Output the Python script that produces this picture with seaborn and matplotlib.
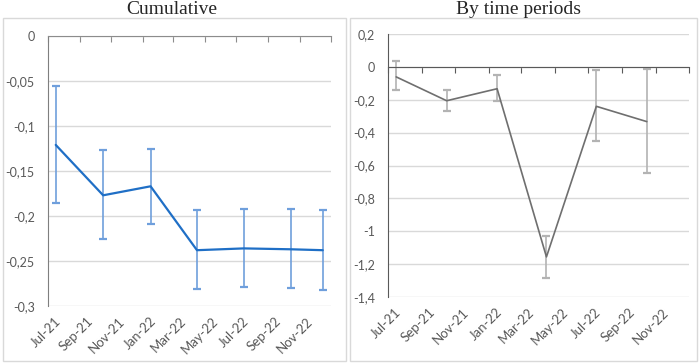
import pandas as pd
import matplotlib
matplotlib.use("Agg")
import matplotlib.pyplot as plt
import matplotlib.transforms as mtransforms
from matplotlib.patches import Rectangle
from matplotlib.ticker import FuncFormatter
import seaborn as sns

# Data
cum_dates = ["2021-07-16", "2021-10-16", "2022-01-16", "2022-04-16",
             "2022-07-16", "2022-10-16", "2022-12-16"]
cum_mean = [-0.121, -0.177, -0.167, -0.238, -0.236, -0.237, -0.238]
cum_low = [-0.185, -0.225, -0.209, -0.281, -0.279, -0.280, -0.282]
cum_high = [-0.056, -0.127, -0.125, -0.193, -0.192, -0.192, -0.193]

per_dates = ["2021-07-16", "2021-10-16", "2022-01-16", "2022-04-16",
             "2022-07-16", "2022-10-16"]
per_mean = [-0.061, -0.206, -0.133, -1.156, -0.240, -0.333]
per_low = [-0.141, -0.267, -0.210, -1.285, -0.448, -0.647]
per_high = [0.035, -0.141, -0.048, -1.028, -0.018, -0.012]

tick_dates = ["2021-07-01", "2021-09-01", "2021-11-01", "2022-01-01", "2022-03-01",
              "2022-05-01", "2022-07-01", "2022-09-01", "2022-11-01", "2023-01-01"]
tick_labels = ["Jul-21", "Sep-21", "Nov-21", "Jan-22", "Mar-22",
               "May-22", "Jul-22", "Sep-22", "Nov-22", ""]

cum = pd.DataFrame({"date": pd.to_datetime(cum_dates), "value": cum_mean,
                    "low": cum_low, "high": cum_high})
per = pd.DataFrame({"date": pd.to_datetime(per_dates), "value": per_mean,
                    "low": per_low, "high": per_high})

sns.set_style("white")
plt.rcParams["font.family"] = ["Lato", "DejaVu Sans"]

fig = plt.figure(figsize=(7, 3.63), dpi=100)
fig.patches.append(Rectangle((3 / 700, 2 / 363), 343 / 700, 343 / 363, transform=fig.transFigure,
                             fill=False, edgecolor="#d9d9d9", lw=1))
fig.patches.append(Rectangle((350 / 700, 2 / 363), 347 / 700, 343 / 363, transform=fig.transFigure,
                             fill=False, edgecolor="#d9d9d9", lw=1))
fig.text(172 / 700, 1 - 13.5 / 363, "Cumulative", ha="center", va="baseline",
         family="Liberation Serif", fontsize=14)
fig.text(518 / 700, 1 - 13.5 / 363, "By time periods", ha="center", va="baseline",
         family="Liberation Serif", fontsize=14)

ax1 = fig.add_axes([48 / 700, 1 - 306 / 363, 283 / 700, 270 / 363])
ax2 = fig.add_axes([388 / 700, 1 - 297 / 363, 301 / 700, 263 / 363])

comma = FuncFormatter(lambda v, p: "{:g}".format(round(v, 2)).replace(".", ","))
shift = mtransforms.ScaledTranslation(11 / 100, -5 / 100, fig.dpi_scale_trans)


def draw(ax, df, color, ecolor, capcolor, lw, axis_color, left_color, yticks):
    # spine position first: moving a spine resets the tick objects
    ax.spines["top"].set_position(("data", 0))
    ax.spines["top"].set_color(axis_color)
    ax.spines["left"].set_color(left_color)
    ax.spines["bottom"].set_visible(False)
    ax.spines["right"].set_visible(False)

    sns.lineplot(data=df, x="date", y="value", color=color, lw=lw, ax=ax, zorder=3)
    eb = ax.errorbar(df["date"], df["value"],
                     yerr=[df["value"] - df["low"], df["high"] - df["value"]],
                     fmt="none", ecolor=ecolor, elinewidth=1.2, capsize=3, capthick=1.6, zorder=2)
    for cl in eb[1]:
        cl.set_color(capcolor)
    ax.set_ylim(yticks[-1], yticks[0])
    ax.set_yticks(yticks)
    ax.yaxis.set_major_formatter(comma)
    ax.grid(axis="y", color="#d9d9d9", lw=1)
    ax.set_xlim(pd.Timestamp(tick_dates[0]), pd.Timestamp(tick_dates[-1]))
    ax.set_xticks(pd.to_datetime(tick_dates))
    ax.set_xticklabels(tick_labels)
    ax.tick_params(axis="x", top=True, bottom=False, labeltop=False, labelbottom=True,
                   direction="in", length=4, color=axis_color, pad=6)
    ax.tick_params(axis="y", left=False, pad=6)
    ax.tick_params(axis="y", labelsize=9, labelcolor="#595959")
    ax.tick_params(axis="x", labelsize=9.5, labelcolor="#595959")
    for lab in ax.get_xticklabels():
        lab.set_rotation(45)
        lab.set_ha("right")
        lab.set_va("center")
        lab.set_rotation_mode("anchor")
        lab.set_transform(lab.get_transform() + shift)
    ax.set_xlabel("")
    ax.set_ylabel("")


draw(ax1, cum, "#1f6fc6", "#6f9fdc", "#2a6acc", 1.6, "#8c8c8c", "#7f7f7f",
     [0, -0.05, -0.1, -0.15, -0.2, -0.25, -0.3])
draw(ax2, per, "#6f6f6f", "#b3b3b3", "#6f6f6f", 1.2, "#595959", "#595959",
     [0.2, 0, -0.2, -0.4, -0.6, -0.8, -1, -1.2, -1.4])

fig.savefig("out.png", dpi=100)
